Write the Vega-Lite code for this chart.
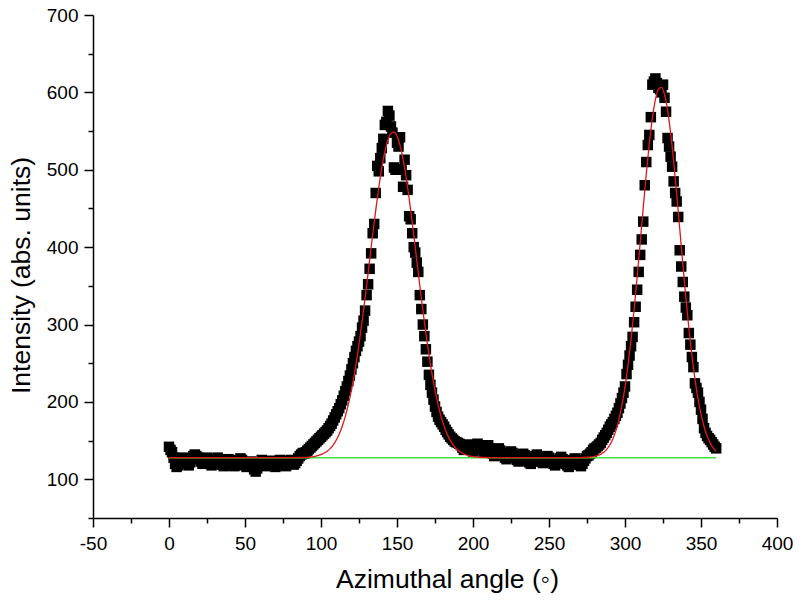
{
"$schema": "https://vega.github.io/schema/vega-lite/v6.json",
"width": 684, "height": 503,
"autosize": {"type": "none"},
"padding": {"left": 93, "top": 15, "right": 22, "bottom": 85},
"background": "white",
"config": {"view": {"stroke": null}, "font": "Liberation Sans"},
"datasets": {
"pts": [
{"angle":0,"intensity":142},{"angle":1,"intensity":138},{"angle":2,"intensity":135},{"angle":3,"intensity":128},{"angle":4,"intensity":120},{"angle":5,"intensity":116},{"angle":6,"intensity":118},{"angle":7,"intensity":122},{"angle":8,"intensity":125},{"angle":9,"intensity":128},
{"angle":10,"intensity":126},{"angle":11,"intensity":124},{"angle":12,"intensity":120},{"angle":13,"intensity":118},{"angle":14,"intensity":122},{"angle":15,"intensity":127},{"angle":16,"intensity":130},{"angle":17,"intensity":132},{"angle":18,"intensity":130},{"angle":19,"intensity":128},
{"angle":20,"intensity":126},{"angle":21,"intensity":123},{"angle":22,"intensity":120},{"angle":23,"intensity":122},{"angle":24,"intensity":125},{"angle":25,"intensity":128},{"angle":26,"intensity":124},{"angle":27,"intensity":121},{"angle":28,"intensity":118},{"angle":29,"intensity":120},
{"angle":30,"intensity":123},{"angle":31,"intensity":126},{"angle":32,"intensity":128},{"angle":33,"intensity":125},{"angle":34,"intensity":122},{"angle":35,"intensity":119},{"angle":36,"intensity":117},{"angle":37,"intensity":120},{"angle":38,"intensity":124},{"angle":39,"intensity":126},
{"angle":40,"intensity":125},{"angle":41,"intensity":122},{"angle":42,"intensity":119},{"angle":43,"intensity":117},{"angle":44,"intensity":118},{"angle":45,"intensity":121},{"angle":46,"intensity":124},{"angle":47,"intensity":127},{"angle":48,"intensity":125},{"angle":49,"intensity":122},
{"angle":50,"intensity":119},{"angle":51,"intensity":116},{"angle":52,"intensity":117},{"angle":53,"intensity":120},{"angle":54,"intensity":123},{"angle":55,"intensity":118},{"angle":56,"intensity":113},{"angle":57,"intensity":110},{"angle":58,"intensity":114},{"angle":59,"intensity":118},
{"angle":60,"intensity":122},{"angle":61,"intensity":125},{"angle":62,"intensity":123},{"angle":63,"intensity":120},{"angle":64,"intensity":117},{"angle":65,"intensity":119},{"angle":66,"intensity":122},{"angle":67,"intensity":124},{"angle":68,"intensity":121},{"angle":69,"intensity":118},
{"angle":70,"intensity":116},{"angle":71,"intensity":119},{"angle":72,"intensity":122},{"angle":73,"intensity":125},{"angle":74,"intensity":123},{"angle":75,"intensity":120},{"angle":76,"intensity":118},{"angle":77,"intensity":117},{"angle":78,"intensity":120},{"angle":79,"intensity":123},
{"angle":80,"intensity":125},{"angle":81,"intensity":122},{"angle":82,"intensity":119},{"angle":83,"intensity":121},{"angle":84,"intensity":124},{"angle":85,"intensity":127},{"angle":86,"intensity":130},{"angle":87,"intensity":132},{"angle":88,"intensity":134},{"angle":89,"intensity":133},
{"angle":90,"intensity":135},{"angle":91,"intensity":137},{"angle":92,"intensity":139},{"angle":93,"intensity":141},{"angle":94,"intensity":143},{"angle":95,"intensity":145},{"angle":96,"intensity":147},{"angle":97,"intensity":149},{"angle":98,"intensity":151},{"angle":99,"intensity":153},
{"angle":100,"intensity":155},{"angle":101,"intensity":157},{"angle":102,"intensity":159},{"angle":103,"intensity":161},{"angle":104,"intensity":163},{"angle":105,"intensity":166},{"angle":106,"intensity":169},{"angle":107,"intensity":172},{"angle":108,"intensity":176},{"angle":109,"intensity":180},
{"angle":110,"intensity":184},{"angle":111,"intensity":188},{"angle":112,"intensity":192},{"angle":113,"intensity":197},{"angle":114,"intensity":202},{"angle":115,"intensity":208},{"angle":116,"intensity":214},{"angle":117,"intensity":220},{"angle":118,"intensity":227},{"angle":119,"intensity":234},
{"angle":120,"intensity":242},{"angle":121,"intensity":250},{"angle":122,"intensity":258},{"angle":123,"intensity":266},{"angle":124,"intensity":272},{"angle":125,"intensity":278},{"angle":126,"intensity":285},{"angle":127,"intensity":296},{"angle":128,"intensity":305},{"angle":129,"intensity":318},
{"angle":130,"intensity":338},{"angle":131,"intensity":352},{"angle":132,"intensity":372},{"angle":133,"intensity":392},{"angle":134,"intensity":418},{"angle":135,"intensity":430},{"angle":136,"intensity":470},{"angle":137,"intensity":505},{"angle":138,"intensity":498},{"angle":139,"intensity":515},
{"angle":140,"intensity":528},{"angle":141,"intensity":540},{"angle":142,"intensity":558},{"angle":143,"intensity":562},{"angle":144,"intensity":576},{"angle":145,"intensity":570},{"angle":146,"intensity":556},{"angle":147,"intensity":548},{"angle":148,"intensity":503},{"angle":149,"intensity":500},
{"angle":150,"intensity":535},{"angle":151,"intensity":530},{"angle":152,"intensity":542},{"angle":153,"intensity":500},{"angle":154,"intensity":478},{"angle":155,"intensity":513},{"angle":156,"intensity":493},{"angle":157,"intensity":474},{"angle":158,"intensity":440},{"angle":159,"intensity":436},
{"angle":160,"intensity":418},{"angle":161,"intensity":400},{"angle":162,"intensity":393},{"angle":163,"intensity":380},{"angle":164,"intensity":368},{"angle":165,"intensity":338},{"angle":166,"intensity":320},{"angle":167,"intensity":300},{"angle":168,"intensity":285},{"angle":169,"intensity":268},
{"angle":170,"intensity":252},{"angle":171,"intensity":235},{"angle":172,"intensity":222},{"angle":173,"intensity":212},{"angle":174,"intensity":203},{"angle":175,"intensity":194},{"angle":176,"intensity":187},{"angle":177,"intensity":181},{"angle":178,"intensity":177},{"angle":179,"intensity":174},
{"angle":180,"intensity":171},{"angle":181,"intensity":168},{"angle":182,"intensity":164},{"angle":183,"intensity":161},{"angle":184,"intensity":158},{"angle":185,"intensity":155},{"angle":186,"intensity":153},{"angle":187,"intensity":151},{"angle":188,"intensity":149},{"angle":189,"intensity":148},
{"angle":190,"intensity":147},{"angle":191,"intensity":146},{"angle":192,"intensity":144},{"angle":193,"intensity":141},{"angle":194,"intensity":138},{"angle":195,"intensity":140},{"angle":196,"intensity":143},{"angle":197,"intensity":145},{"angle":198,"intensity":142},{"angle":199,"intensity":139},
{"angle":200,"intensity":136},{"angle":201,"intensity":139},{"angle":202,"intensity":143},{"angle":203,"intensity":146},{"angle":204,"intensity":144},{"angle":205,"intensity":141},{"angle":206,"intensity":138},{"angle":207,"intensity":135},{"angle":208,"intensity":138},{"angle":209,"intensity":141},
{"angle":210,"intensity":144},{"angle":211,"intensity":140},{"angle":212,"intensity":136},{"angle":213,"intensity":133},{"angle":214,"intensity":130},{"angle":215,"intensity":133},{"angle":216,"intensity":137},{"angle":217,"intensity":140},{"angle":218,"intensity":137},{"angle":219,"intensity":134},
{"angle":220,"intensity":131},{"angle":221,"intensity":128},{"angle":222,"intensity":126},{"angle":223,"intensity":129},{"angle":224,"intensity":133},{"angle":225,"intensity":136},{"angle":226,"intensity":134},{"angle":227,"intensity":131},{"angle":228,"intensity":128},{"angle":229,"intensity":125},
{"angle":230,"intensity":123},{"angle":231,"intensity":126},{"angle":232,"intensity":130},{"angle":233,"intensity":133},{"angle":234,"intensity":131},{"angle":235,"intensity":128},{"angle":236,"intensity":125},{"angle":237,"intensity":122},{"angle":238,"intensity":120},{"angle":239,"intensity":123},
{"angle":240,"intensity":127},{"angle":241,"intensity":130},{"angle":242,"intensity":132},{"angle":243,"intensity":129},{"angle":244,"intensity":126},{"angle":245,"intensity":123},{"angle":246,"intensity":121},{"angle":247,"intensity":124},{"angle":248,"intensity":127},{"angle":249,"intensity":130},
{"angle":250,"intensity":128},{"angle":251,"intensity":125},{"angle":252,"intensity":122},{"angle":253,"intensity":120},{"angle":254,"intensity":118},{"angle":255,"intensity":121},{"angle":256,"intensity":124},{"angle":257,"intensity":127},{"angle":258,"intensity":129},{"angle":259,"intensity":126},
{"angle":260,"intensity":123},{"angle":261,"intensity":120},{"angle":262,"intensity":118},{"angle":263,"intensity":116},{"angle":264,"intensity":119},{"angle":265,"intensity":122},{"angle":266,"intensity":125},{"angle":267,"intensity":127},{"angle":268,"intensity":124},{"angle":269,"intensity":121},
{"angle":270,"intensity":119},{"angle":271,"intensity":117},{"angle":272,"intensity":120},{"angle":273,"intensity":124},{"angle":274,"intensity":127},{"angle":275,"intensity":130},{"angle":276,"intensity":131},{"angle":277,"intensity":133},{"angle":278,"intensity":135},{"angle":279,"intensity":138},
{"angle":280,"intensity":140},{"angle":281,"intensity":141},{"angle":282,"intensity":143},{"angle":283,"intensity":145},{"angle":284,"intensity":147},{"angle":285,"intensity":151},{"angle":286,"intensity":154},{"angle":287,"intensity":157},{"angle":288,"intensity":160},{"angle":289,"intensity":164},
{"angle":290,"intensity":168},{"angle":291,"intensity":171},{"angle":292,"intensity":174},{"angle":293,"intensity":178},{"angle":294,"intensity":182},{"angle":295,"intensity":186},{"angle":296,"intensity":192},{"angle":297,"intensity":198},{"angle":298,"intensity":205},{"angle":299,"intensity":212},
{"angle":300,"intensity":220},{"angle":301,"intensity":236},{"angle":302,"intensity":248},{"angle":303,"intensity":260},{"angle":304,"intensity":272},{"angle":305,"intensity":284},{"angle":306,"intensity":303},{"angle":307,"intensity":323},{"angle":308,"intensity":345},{"angle":309,"intensity":368},
{"angle":310,"intensity":390},{"angle":311,"intensity":410},{"angle":312,"intensity":433},{"angle":313,"intensity":480},{"angle":314,"intensity":510},{"angle":315,"intensity":532},{"angle":316,"intensity":545},{"angle":317,"intensity":568},{"angle":318,"intensity":610},{"angle":319,"intensity":614},
{"angle":320,"intensity":618},{"angle":321,"intensity":612},{"angle":322,"intensity":606},{"angle":323,"intensity":604},{"angle":324,"intensity":600},{"angle":325,"intensity":610},{"angle":326,"intensity":593},{"angle":327,"intensity":575},{"angle":328,"intensity":541},{"angle":329,"intensity":530},
{"angle":330,"intensity":517},{"angle":331,"intensity":504},{"angle":332,"intensity":485},{"angle":333,"intensity":470},{"angle":334,"intensity":459},{"angle":335,"intensity":439},{"angle":336,"intensity":396},{"angle":337,"intensity":375},{"angle":338,"intensity":355},{"angle":339,"intensity":336},
{"angle":340,"intensity":322},{"angle":341,"intensity":312},{"angle":342,"intensity":289},{"angle":343,"intensity":274},{"angle":344,"intensity":258},{"angle":345,"intensity":245},{"angle":346,"intensity":224},{"angle":347,"intensity":218},{"angle":348,"intensity":212},{"angle":349,"intensity":200},
{"angle":350,"intensity":190},{"angle":351,"intensity":178},{"angle":352,"intensity":166},{"angle":353,"intensity":160},{"angle":354,"intensity":156},{"angle":355,"intensity":153},{"angle":356,"intensity":151},{"angle":357,"intensity":148},{"angle":358,"intensity":145},{"angle":359,"intensity":142},
{"angle":360,"intensity":140}
],
"fit": [
{"angle":0,"intensity":128},{"angle":40,"intensity":128},{"angle":80,"intensity":128.1},{"angle":88,"intensity":128.3},{"angle":92,"intensity":128.7},{"angle":96,"intensity":129.7},{"angle":100,"intensity":131.8},{"angle":104,"intensity":136.2},{"angle":106,"intensity":139.6},{"angle":108,"intensity":144.3},
{"angle":110,"intensity":150.5},{"angle":112,"intensity":158.5},{"angle":114,"intensity":168.6},{"angle":116,"intensity":181.3},{"angle":118,"intensity":196.7},{"angle":120,"intensity":215.1},{"angle":122,"intensity":236.6},{"angle":124,"intensity":261.2},{"angle":126,"intensity":288.7},{"angle":128,"intensity":318.7},
{"angle":130,"intensity":350.5},{"angle":132,"intensity":383.2},{"angle":134,"intensity":416.0},{"angle":136,"intensity":447.6},{"angle":138,"intensity":476.8},{"angle":140,"intensity":502.4},{"angle":142,"intensity":523.3},{"angle":144,"intensity":538.4},{"angle":146,"intensity":547.0},{"angle":148,"intensity":548.8},
{"angle":150,"intensity":543.6},{"angle":152,"intensity":531.6},{"angle":154,"intensity":513.5},{"angle":156,"intensity":490.2},{"angle":158,"intensity":462.6},{"angle":160,"intensity":432.0},{"angle":162,"intensity":399.7},{"angle":164,"intensity":366.7},{"angle":166,"intensity":334.4},{"angle":168,"intensity":303.4},
{"angle":170,"intensity":274.6},{"angle":172,"intensity":248.6},{"angle":174,"intensity":225.5},{"angle":176,"intensity":205.5},{"angle":178,"intensity":188.6},{"angle":180,"intensity":174.6},{"angle":182,"intensity":163.2},{"angle":184,"intensity":154.2},{"angle":186,"intensity":147.2},{"angle":188,"intensity":141.8},
{"angle":190,"intensity":137.8},{"angle":194,"intensity":132.7},{"angle":198,"intensity":130.1},{"angle":204,"intensity":128.5},{"angle":210,"intensity":128.1},{"angle":240,"intensity":128},{"angle":270,"intensity":128.1},{"angle":276,"intensity":128.5},{"angle":280,"intensity":129.6},{"angle":284,"intensity":132.3},
{"angle":286,"intensity":134.9},{"angle":288,"intensity":138.7},{"angle":290,"intensity":144.3},{"angle":292,"intensity":152.1},{"angle":294,"intensity":162.9},{"angle":296,"intensity":177.2},{"angle":298,"intensity":195.8},{"angle":300,"intensity":219.1},{"angle":302,"intensity":247.6},{"angle":304,"intensity":281.1},
{"angle":306,"intensity":319.4},{"angle":308,"intensity":361.5},{"angle":310,"intensity":406.0},{"angle":312,"intensity":451.1},{"angle":314,"intensity":494.5},{"angle":316,"intensity":533.8},{"angle":318,"intensity":566.5},{"angle":320,"intensity":590.5},{"angle":322,"intensity":604.2},{"angle":324,"intensity":606.5},
{"angle":326,"intensity":597.3},{"angle":328,"intensity":577.3},{"angle":330,"intensity":547.7},{"angle":332,"intensity":510.9},{"angle":334,"intensity":468.8},{"angle":336,"intensity":424.1},{"angle":338,"intensity":379.1},{"angle":340,"intensity":335.8},{"angle":342,"intensity":295.9},{"angle":344,"intensity":260.4},
{"angle":346,"intensity":229.9},{"angle":348,"intensity":204.5},{"angle":350,"intensity":184.1},{"angle":352,"intensity":168.2},{"angle":354,"intensity":156.1},{"angle":356,"intensity":147.1},{"angle":358,"intensity":140.7},{"angle":360,"intensity":136.3}
],
"base": [{"angle":0,"intensity":128},{"angle":360,"intensity":128}]
},
"layer": [
{
"data": {"name": "pts"},
"mark": {"type": "square", "size": 110, "filled": true, "color": "black", "opacity": 1},
"encoding": {
"x": {"field": "angle", "type": "quantitative",
"scale": {"domain": [-50, 400], "nice": false, "zero": false},
"axis": {"orient": "bottom", "values": [-50,0,50,100,150,200,250,300,350,400], "title": "Azimuthal angle (◦)",
"labelExpr": "replace(datum.label, '−', '-')",
"titleFont": "Liberation Sans", "titleFontSize": 26.5, "titleFontWeight": "normal", "titleColor": "black", "titlePadding": 13, "titleX": 354, "titleAnchor": "middle",
"labelFont": "Liberation Sans", "labelFontSize": 19, "labelColor": "black", "labelPadding": 7, "labelFlush": false, "labelOverlap": false,
"tickSize": 9, "tickWidth": 1.5, "tickColor": "black", "domainColor": "black", "domainWidth": 1.5, "grid": false}},
"y": {"field": "intensity", "type": "quantitative",
"scale": {"domain": [50, 700], "nice": false, "zero": false},
"axis": {"orient": "left", "values": [100,200,300,400,500,600,700], "title": "Intensity (abs. units)",
"titleFont": "Liberation Sans", "titleFontSize": 26.5, "titleFontWeight": "normal", "titleColor": "black", "titlePadding": 11, "titleY": 260, "titleAnchor": "middle",
"labelFont": "Liberation Sans", "labelFontSize": 19, "labelColor": "black", "labelPadding": 6, "labelFlush": false, "labelOverlap": false,
"tickSize": 9, "tickWidth": 1.5, "tickColor": "black", "domainColor": "black", "domainWidth": 1.5, "grid": false}}
}
},
{
"data": {"name": "base"},
"mark": {"type": "line", "color": "#3fe23f", "strokeWidth": 1.5},
"encoding": {
"x": {"field": "angle", "type": "quantitative",
"axis": {"orient": "bottom", "values": [-25,25,75,125,175,225,275,325,375], "labels": false, "domain": false, "title": null,
"tickSize": 5, "tickWidth": 1.5, "tickColor": "black", "grid": false}},
"y": {"field": "intensity", "type": "quantitative",
"axis": {"orient": "left", "values": [50,150,250,350,450,550,650], "labels": false, "domain": false, "title": null,
"tickSize": 5, "tickWidth": 1.5, "tickColor": "black", "grid": false}}
}
},
{
"data": {"name": "fit"},
"mark": {"type": "line", "color": "#e3161b", "strokeWidth": 1.3, "interpolate": "monotone"},
"encoding": {
"x": {"field": "angle", "type": "quantitative", "axis": null},
"y": {"field": "intensity", "type": "quantitative", "axis": null}
}
}
],
"resolve": {"axis": {"x": "independent", "y": "independent"}}
}
